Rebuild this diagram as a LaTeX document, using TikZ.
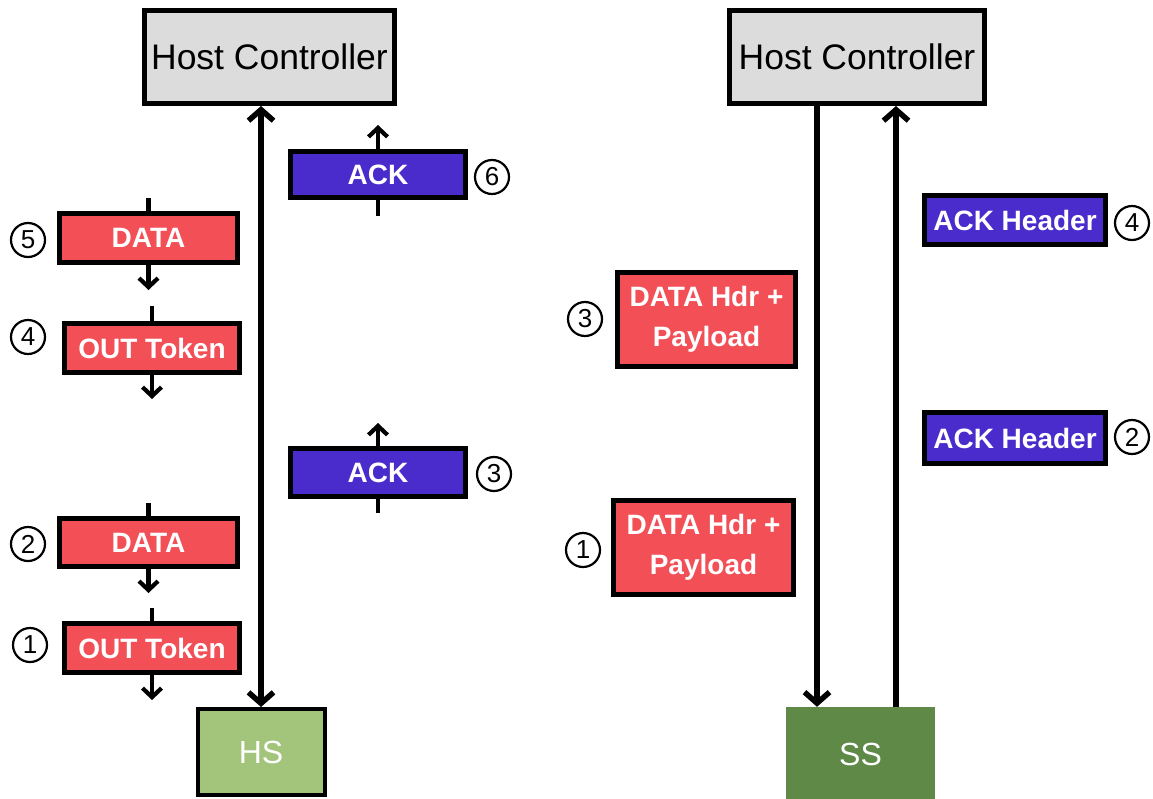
\documentclass[tikz,border=0pt]{standalone}
\usepackage{fontspec}
\setmainfont{Liberation Sans}
\usetikzlibrary{arrows.meta}
\definecolor{pktred}{HTML}{F24F57}
\definecolor{pktblue}{HTML}{4A2BCB}
\definecolor{hostgray}{HTML}{DCDCDC}
\definecolor{hsgreen}{HTML}{A3C57B}
\definecolor{ssgreen}{HTML}{5E8946}

\begin{document}
\begin{tikzpicture}[x=1pt,y=-1pt,
  mainhead/.tip={Straight Barb[length=11pt,width=25pt]},
  smallhead/.tip={Straight Barb[length=9pt,width=19pt]},
  host/.style={draw=black,line width=5pt,fill=hostgray,minimum width=250pt,
    minimum height=93pt,inner sep=0pt,font=\fontsize{35.5}{40}\selectfont},
  port/.style={minimum width=127pt,minimum height=86pt,inner sep=0pt,
    text=white,font=\fontsize{32}{38}\selectfont},
  packet/.style={draw=black,line width=5pt,text=white,inner sep=0pt,
    align=center,font=\bfseries\fontsize{28}{40}\selectfont},
  redpkt/.style={packet,fill=pktred},
  bluepkt/.style={packet,fill=pktblue},
  seqnum/.style={circle,draw=black,line width=2.2pt,minimum size=34pt,
    inner sep=0pt,font=\fontsize{26}{26}\selectfont},
  bus/.style={line width=5.5pt},
  flow/.style={line width=4.2pt},
]
\useasboundingbox (0,0) rectangle (1153,798);

% ---------- left: high-speed link ----------
\node[host] (hcL) at (269.5,57) {Host Controller};
\node[port,draw=black,line width=4pt,fill=hsgreen] (hs) at (261,752) {HS};

\node[redpkt,minimum width=178pt,minimum height=49pt] (d5) at (148.5,238) {DATA};
\node[redpkt,minimum width=175pt,minimum height=49pt] (o4) at (152,348) {OUT Token};
\node[redpkt,minimum width=178pt,minimum height=48pt] (d2) at (148.5,542.5) {DATA};
\node[redpkt,minimum width=175pt,minimum height=49pt] (o1) at (152,648) {OUT Token};
\node[bluepkt,minimum width=175pt,minimum height=46pt] (ack6) at (378,174.5) {ACK};
\node[bluepkt,minimum width=175pt,minimum height=48pt] (ack3) at (378,472.5) {ACK};

\node[seqnum] (n5) at (28,240) {5};
\node[seqnum] (n4) at (28,337) {4};
\node[seqnum] (n2) at (28,544) {2};
\node[seqnum] (n1) at (30,645) {1};
\node[seqnum] (n6) at (492,177) {6};
\node[seqnum] (n3) at (494,474) {3};

% shared bus between host and device
\draw[bus,mainhead-mainhead] (hs.north |- hcL.south) -- (hs.north);

% packet flow stubs
\coordinate (d5in) at ([yshift=13pt]d5.north);
\coordinate (d5out) at ([yshift=-25pt]d5.south);
\coordinate (o4in) at ([yshift=15pt]o4.north);
\coordinate (o4out) at ([yshift=-24pt]o4.south);
\coordinate (d2in) at ([yshift=13pt]d2.north);
\coordinate (d2out) at ([yshift=-24pt]d2.south);
\coordinate (o1in) at ([yshift=13pt]o1.north);
\coordinate (o1out) at ([yshift=-25pt]o1.south);
\coordinate (ack6in) at ([yshift=-16pt]ack6.south);
\coordinate (ack6out) at ([yshift=24pt]ack6.north);
\coordinate (ack3in) at ([yshift=-14pt]ack3.south);
\coordinate (ack3out) at ([yshift=23pt]ack3.north);

\draw[flow] (d5in) -- (d5.north);
\draw[flow,-smallhead] (d5.south) -- (d5out);
\draw[flow] (o4in) -- (o4.north);
\draw[flow,-smallhead] (o4.south) -- (o4out);
\draw[flow] (d2in) -- (d2.north);
\draw[flow,-smallhead] (d2.south) -- (d2out);
\draw[flow] (o1in) -- (o1.north);
\draw[flow,-smallhead] (o1.south) -- (o1out);
\draw[flow] (ack6in) -- (ack6.south);
\draw[flow,-smallhead] (ack6.north) -- (ack6out);
\draw[flow] (ack3in) -- (ack3.south);
\draw[flow,-smallhead] (ack3.north) -- (ack3out);

% ---------- right: SuperSpeed link ----------
\node[host,minimum width=255pt] (hcR) at (857,57) {Host Controller};
\node[port,fill=ssgreen,minimum width=149pt,minimum height=94pt] (ss) at (860.5,754) {SS};

\node[redpkt,minimum width=178pt,minimum height=94pt] (dh3) at (706.5,319.5) {DATA Hdr +\\Payload};
\node[redpkt,minimum width=180pt,minimum height=94pt] (dh1) at (703.5,547.5) {DATA Hdr +\\Payload};
\node[bluepkt,minimum width=181pt,minimum height=49pt] (ah4) at (1015,220) {ACK Header};
\node[bluepkt,minimum width=181pt,minimum height=51pt] (ah2) at (1015,438) {ACK Header};

\node[seqnum] (m3) at (585,319) {3};
\node[seqnum] (m1) at (583,550) {1};
\node[seqnum] (m4) at (1132,223) {4};
\node[seqnum] (m2) at (1132,437) {2};

% dual simplex lanes
\coordinate (dnEnd) at ([xshift=-43.5pt]ss.north);
\coordinate (dnStart) at (dnEnd |- hcR.south);
\coordinate (upStart) at ([xshift=35.5pt]ss.north);
\coordinate (upEnd) at (upStart |- hcR.south);
\draw[bus,-mainhead] (dnStart) -- (dnEnd);
\draw[bus,-mainhead] (upStart) -- (upEnd);
\end{tikzpicture}
\end{document}
